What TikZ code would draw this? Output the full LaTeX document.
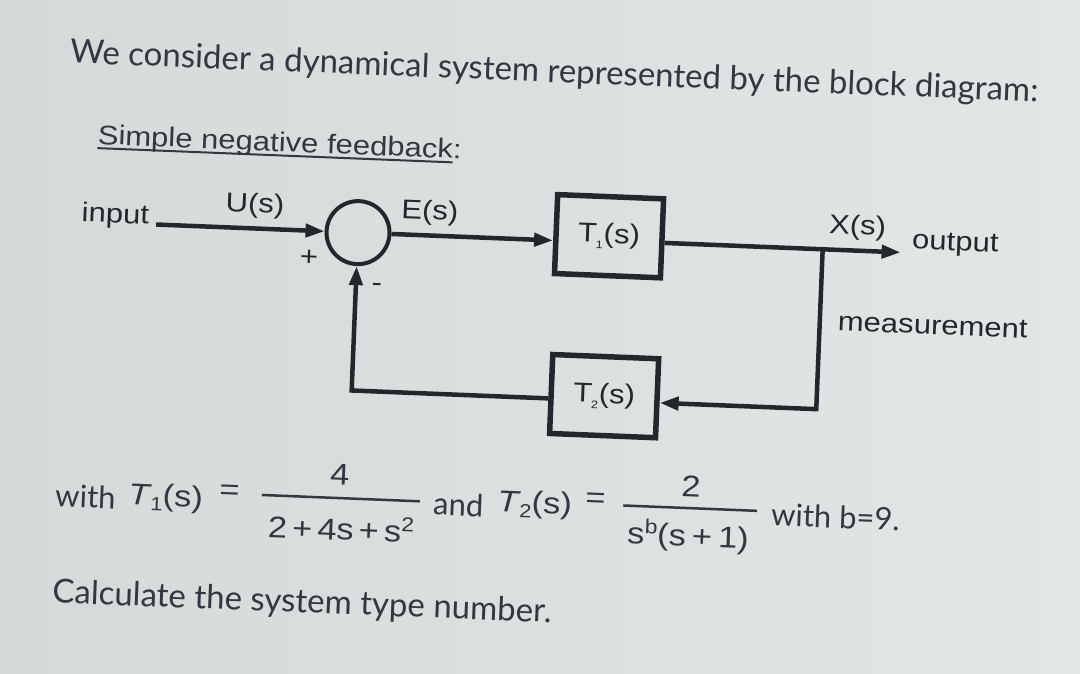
\documentclass[tikz,border=0pt]{standalone}
\usepackage{fontspec}
\setmainfont{Lato}
\newfontfamily\dg[FakeStretch=1.15]{Liberation Sans}
\usetikzlibrary{arrows.meta}
\definecolor{bgL}{HTML}{D3DAD9}
\definecolor{bgR}{HTML}{E1E7E6}
\definecolor{ink}{HTML}{23262A}
\definecolor{txt}{HTML}{33373E}
\newcommand\myul[1]{\setbox0\hbox{#1}\rlap{\rule[-5pt]{\wd0}{2pt}}\box0}
\begin{document}
\begin{tikzpicture}[x=1pt,y=-1pt,
  prose/.style={font=\fontsize{31}{31}\selectfont, text=txt, inner sep=0pt, anchor=base west},
  bigprose/.style={prose, font=\fontsize{33}{33}\selectfont},
  lbl/.style={font=\dg\fontsize{27}{27}\selectfont, text=ink, inner sep=0pt},
  eqm/.style={font=\dg\fontsize{30}{30}\selectfont, text=txt, inner sep=0pt},
  blk/.style={draw=ink, line width=5.5pt, minimum width=106pt, minimum height=79pt,
    inner sep=0pt, font=\dg\fontsize{27}{27}\selectfont, text=ink},
  sumnode/.style={circle, draw=ink, line width=4pt, minimum size=63pt, inner sep=0pt},
  conn/.style={draw=ink, line width=4.5pt},
  tip/.style={-{Triangle[length=19pt,width=13pt]}},
  fbar/.style={fill=txt, minimum height=2.5pt, inner sep=0pt}
]
\shade[left color=bgL, right color=bgR] (0,0) rectangle (1080,673);
\useasboundingbox (0,0) rectangle (1080,673);
\begin{scope}[rotate around={-2.3:(540,336)}, transform shape]
% prose
\node[bigprose] (title) at (59,82) {We consider a dynamical system represented by the block diagram:};
\node[lbl, anchor=base west, text=txt] (snf) at (90,162) {\myul{Simple negative feedback}:};
% diagram
\node[lbl, anchor=base west] (input) at (77,240) {input};
\coordinate (in0) at (152,240);
\node[lbl] (U) at (250,217) {U(s)};
\node[sumnode] (sum) at (354,240) {};
\node[lbl] (plus) at (306,267) {+};
\node[lbl] (minus) at (375,294) {-};
\node[lbl] (E) at (425,217) {E(s)};
\node[blk] (T1) at (605,233.5) {T\kern-1pt\raisebox{-6pt}{\fontsize{11}{11}\selectfont 1}\kern0.5pt(s)};
\node[blk] (T2) at (606.5,393.5) {T\kern-1pt\raisebox{-6pt}{\fontsize{11}{11}\selectfont 2}\kern0.5pt(s)};
\coordinate (br) at (819,238);
\coordinate (out) at (897,238);
\coordinate (fbR) at (819,398);
\coordinate (fbL) at (354,398);
\node[lbl] (X) at (853,215) {X(s)};
\node[lbl, anchor=west] (output) at (908,228) {output};
\node[lbl, anchor=west] (meas) at (837,310) {measurement};
\draw[conn, tip] (in0) -- (sum.west);
\draw[conn, tip] (sum.east) -- (sum.east -| T1.west);
\draw[conn, tip] (T1.east |- br) -- (out);
\draw[conn, tip] (br) -- (fbR) -- (fbR -| T2.east);
\draw[conn, tip] (T2.west |- fbL) -- (fbL) -- (sum.south);
% equation
\node[prose] (with1) at (62,526) {with};
\node[eqm, anchor=base west] (T1e) at (135,521) {\textit{T}\kern-1pt\raisebox{-5pt}{\fontsize{19}{19}\selectfont 1}(s)};
\node[eqm] (eq1) at (236,505) {=};
\node[fbar, minimum width=158pt] (bar1) at (347.5,506) {};
\node[eqm] (num1) at (345.5,482) {4};
\node[eqm, anchor=base] (den1) at (349,548) {2\hspace{5pt}+\hspace{5pt}4s\hspace{5pt}+\hspace{5pt}s\raisebox{11pt}{\fontsize{20}{20}\selectfont 2}};
\node[prose] (and) at (440,519) {and};
\node[eqm, anchor=base west] (T2e) at (504,513) {\textit{T}\kern-1pt\raisebox{-5pt}{\fontsize{19}{19}\selectfont 2}(s)};
\node[eqm] (eq2) at (602,498) {=};
\node[fbar, minimum width=134pt] (bar2) at (697,502) {};
\node[eqm] (num2) at (697,480) {2};
\node[eqm, anchor=base] (den2) at (696,540) {s\raisebox{11pt}{\fontsize{20}{20}\selectfont b}(s\hspace{6pt}+\hspace{6pt}1)};
\node[prose] (withb) at (778,516) {with b=9.};
\node[bigprose] (calc) at (63,622) {Calculate the system type number.};
\end{scope}
\end{tikzpicture}
\end{document}
